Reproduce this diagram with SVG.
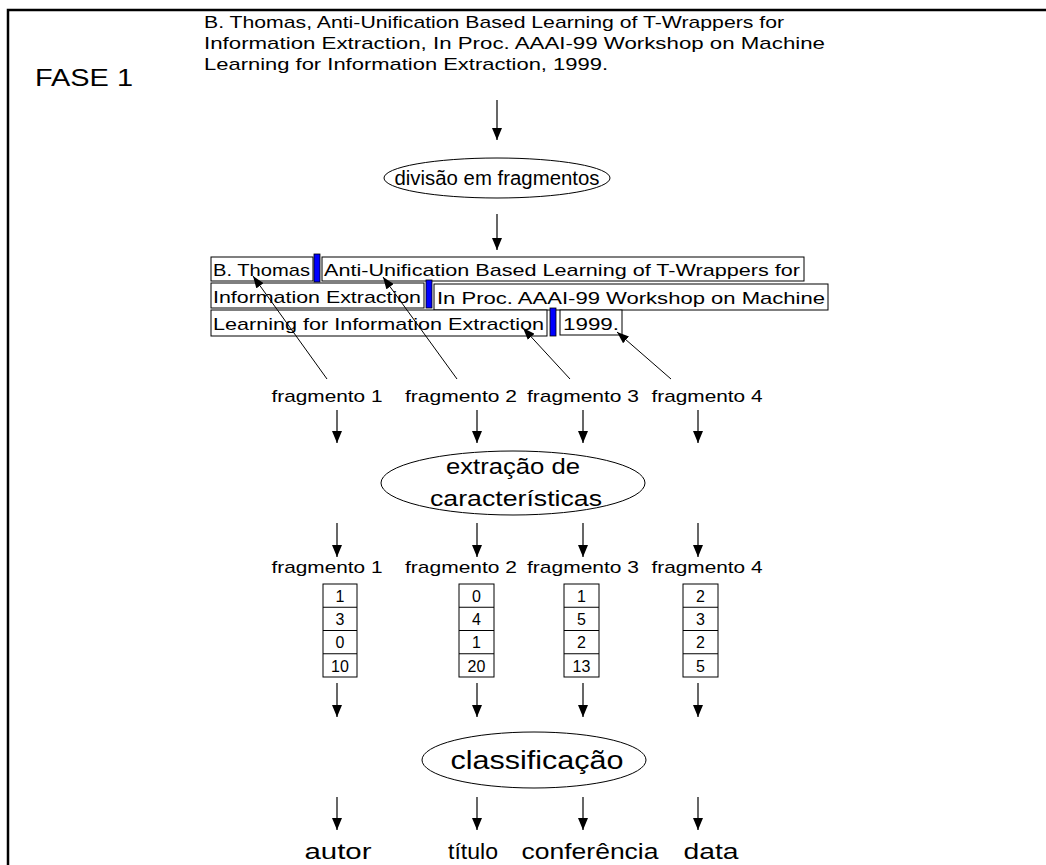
<svg xmlns="http://www.w3.org/2000/svg" width="1046" height="865" viewBox="0 0 1046 865">
<style>
text{font-family:"Liberation Sans",Arial,sans-serif;fill:#000}
.t17{font-size:17px}
.lbl{font-size:17px;text-anchor:middle}
.num{font-size:16px;text-anchor:middle}
.big{font-size:22px;text-anchor:middle}
.box{fill:#fff;stroke:#000;stroke-width:1}
.bar{fill:#0000ff;stroke:#000;stroke-width:0.8}
.ell{fill:#fff;stroke:#000;stroke-width:1}
.arr{stroke:#000;stroke-width:1.2;fill:none;marker-end:url(#ah)}
.ptr{stroke:#000;stroke-width:1;fill:none;marker-end:url(#ah2)}
</style>
<defs>
<marker id="ah" markerUnits="userSpaceOnUse" markerWidth="12" markerHeight="10" refX="12" refY="5" orient="auto">
<path d="M0,0 L12,5 L0,10 z" fill="#000"/>
</marker>
<marker id="ah2" markerUnits="userSpaceOnUse" markerWidth="12" markerHeight="9" refX="12" refY="4.5" orient="auto">
<path d="M0,0 L12,4.5 L0,9 z" fill="#000"/>
</marker>
</defs>
<rect width="1046" height="865" fill="#fff"/>
<path d="M8,865 V10 H1046" fill="none" stroke="#000" stroke-width="2.5"/>

<g id="fase">
<text x="35" y="86" style="font-size:24px" textLength="98" lengthAdjust="spacingAndGlyphs">FASE 1</text>
</g>

<g id="source-text" class="t17">
<text x="204" y="28" textLength="580" lengthAdjust="spacingAndGlyphs">B. Thomas, Anti-Unification Based Learning of T-Wrappers for</text>
<text x="204" y="49" textLength="621" lengthAdjust="spacingAndGlyphs">Information Extraction, In Proc. AAAI-99 Workshop on Machine</text>
<text x="204" y="70" textLength="404" lengthAdjust="spacingAndGlyphs">Learning for Information Extraction, 1999.</text>
</g>

<g id="divisao">
<ellipse class="ell" cx="497" cy="178" rx="113" ry="20"/>
<text x="497" y="185" style="font-size:20px;text-anchor:middle" textLength="205" lengthAdjust="spacingAndGlyphs">divisão em fragmentos</text>
</g>

<g id="fragmented-text" class="t17">
<rect class="box" x="211" y="257" width="102" height="24"/>
<text x="213" y="276" textLength="97" lengthAdjust="spacingAndGlyphs">B. Thomas</text>
<rect class="bar" x="314" y="254" width="6" height="28"/>
<rect class="box" x="322" y="257" width="482" height="24"/>
<text x="324" y="276" textLength="476" lengthAdjust="spacingAndGlyphs">Anti-Unification Based Learning of T-Wrappers for</text>

<rect class="box" x="211" y="283" width="213" height="25"/>
<text x="213" y="303" textLength="208" lengthAdjust="spacingAndGlyphs">Information Extraction</text>
<rect class="bar" x="426" y="280" width="6" height="28"/>
<rect class="box" x="434" y="284" width="394" height="26"/>
<text x="437" y="304" textLength="388" lengthAdjust="spacingAndGlyphs">In  Proc. AAAI-99 Workshop on Machine</text>

<rect class="box" x="211" y="310" width="336" height="26"/>
<text x="213" y="330" textLength="331" lengthAdjust="spacingAndGlyphs">Learning for Information Extraction</text>
<rect class="bar" x="550" y="308" width="6" height="28"/>
<rect class="box" x="560" y="310" width="62" height="25"/>
<text x="563" y="330" textLength="56" lengthAdjust="spacingAndGlyphs">1999.</text>
</g>

<g id="labels1" class="lbl">
<text x="327" y="402" textLength="111" lengthAdjust="spacingAndGlyphs">fragmento 1</text>
<text x="461" y="402" textLength="112" lengthAdjust="spacingAndGlyphs">fragmento 2</text>
<text x="583" y="402" textLength="112" lengthAdjust="spacingAndGlyphs">fragmento 3</text>
<text x="707" y="402" textLength="111" lengthAdjust="spacingAndGlyphs">fragmento 4</text>
</g>

<g id="extracao">
<ellipse class="ell" cx="513" cy="483" rx="132" ry="32"/>
<text class="big" x="513" y="474" textLength="134" lengthAdjust="spacingAndGlyphs">extração de</text>
<text class="big" x="516" y="506" textLength="172" lengthAdjust="spacingAndGlyphs">características</text>
</g>

<g id="labels2" class="lbl">
<text x="327" y="573" textLength="111" lengthAdjust="spacingAndGlyphs">fragmento 1</text>
<text x="461" y="573" textLength="112" lengthAdjust="spacingAndGlyphs">fragmento 2</text>
<text x="583" y="573" textLength="112" lengthAdjust="spacingAndGlyphs">fragmento 3</text>
<text x="707" y="573" textLength="111" lengthAdjust="spacingAndGlyphs">fragmento 4</text>
</g>

<g id="vec1">
<rect class="box" x="323" y="584" width="34" height="93"/>
<path d="M323,607.25H357M323,630.5H357M323,653.75H357" stroke="#000" stroke-width="1"/>
<text class="num" x="340" y="602">1</text><text class="num" x="340" y="625">3</text><text class="num" x="340" y="648">0</text><text class="num" x="340" y="672">10</text>
</g>
<g id="vec2">
<rect class="box" x="459" y="584" width="35" height="93"/>
<path d="M459,607.25H494M459,630.5H494M459,653.75H494" stroke="#000" stroke-width="1"/>
<text class="num" x="476.5" y="602">0</text><text class="num" x="476.5" y="625">4</text><text class="num" x="476.5" y="648">1</text><text class="num" x="476.5" y="672">20</text>
</g>
<g id="vec3">
<rect class="box" x="564" y="584" width="35" height="93"/>
<path d="M564,607.25H599M564,630.5H599M564,653.75H599" stroke="#000" stroke-width="1"/>
<text class="num" x="581.5" y="602">1</text><text class="num" x="581.5" y="625">5</text><text class="num" x="581.5" y="648">2</text><text class="num" x="581.5" y="672">13</text>
</g>
<g id="vec4">
<rect class="box" x="683" y="584" width="35" height="93"/>
<path d="M683,607.25H718M683,630.5H718M683,653.75H718" stroke="#000" stroke-width="1"/>
<text class="num" x="700.5" y="602">2</text><text class="num" x="700.5" y="625">3</text><text class="num" x="700.5" y="648">2</text><text class="num" x="700.5" y="672">5</text>
</g>

<g id="classificacao">
<ellipse class="ell" cx="534" cy="760" rx="112" ry="28"/>
<text x="537" y="769" style="font-size:25px;text-anchor:middle" textLength="173" lengthAdjust="spacingAndGlyphs">classificação</text>
</g>

<g id="outputs" class="big">
<text x="338" y="859" textLength="67" lengthAdjust="spacingAndGlyphs">autor</text>
<text x="473" y="859" textLength="50" lengthAdjust="spacingAndGlyphs">título</text>
<text x="590" y="859" textLength="137" lengthAdjust="spacingAndGlyphs">conferência</text>
<text x="711" y="859" textLength="55" lengthAdjust="spacingAndGlyphs">data</text>
</g>

<g id="connectors">
<line class="arr" x1="497" y1="100" x2="497" y2="140"/>
<line class="arr" x1="497" y1="214" x2="497" y2="250"/>
<line class="ptr" x1="327" y1="379" x2="253" y2="276"/>
<line class="ptr" x1="457" y1="379" x2="383" y2="277"/>
<line class="ptr" x1="570" y1="379" x2="523" y2="328"/>
<line class="ptr" x1="671" y1="379" x2="617" y2="332"/>
<line class="arr" x1="337" y1="410" x2="337" y2="443"/>
<line class="arr" x1="477" y1="410" x2="477" y2="443"/>
<line class="arr" x1="583" y1="410" x2="583" y2="443"/>
<line class="arr" x1="698" y1="410" x2="698" y2="443"/>
<line class="arr" x1="337" y1="523" x2="337" y2="557"/>
<line class="arr" x1="477" y1="523" x2="477" y2="557"/>
<line class="arr" x1="583" y1="523" x2="583" y2="557"/>
<line class="arr" x1="698" y1="523" x2="698" y2="557"/>
<line class="arr" x1="337" y1="683" x2="337" y2="717"/>
<line class="arr" x1="477" y1="683" x2="477" y2="717"/>
<line class="arr" x1="583" y1="683" x2="583" y2="717"/>
<line class="arr" x1="698" y1="683" x2="698" y2="717"/>
<line class="arr" x1="337" y1="797" x2="337" y2="830"/>
<line class="arr" x1="477" y1="797" x2="477" y2="830"/>
<line class="arr" x1="583" y1="797" x2="583" y2="830"/>
<line class="arr" x1="698" y1="797" x2="698" y2="830"/>
</g>
</svg>
